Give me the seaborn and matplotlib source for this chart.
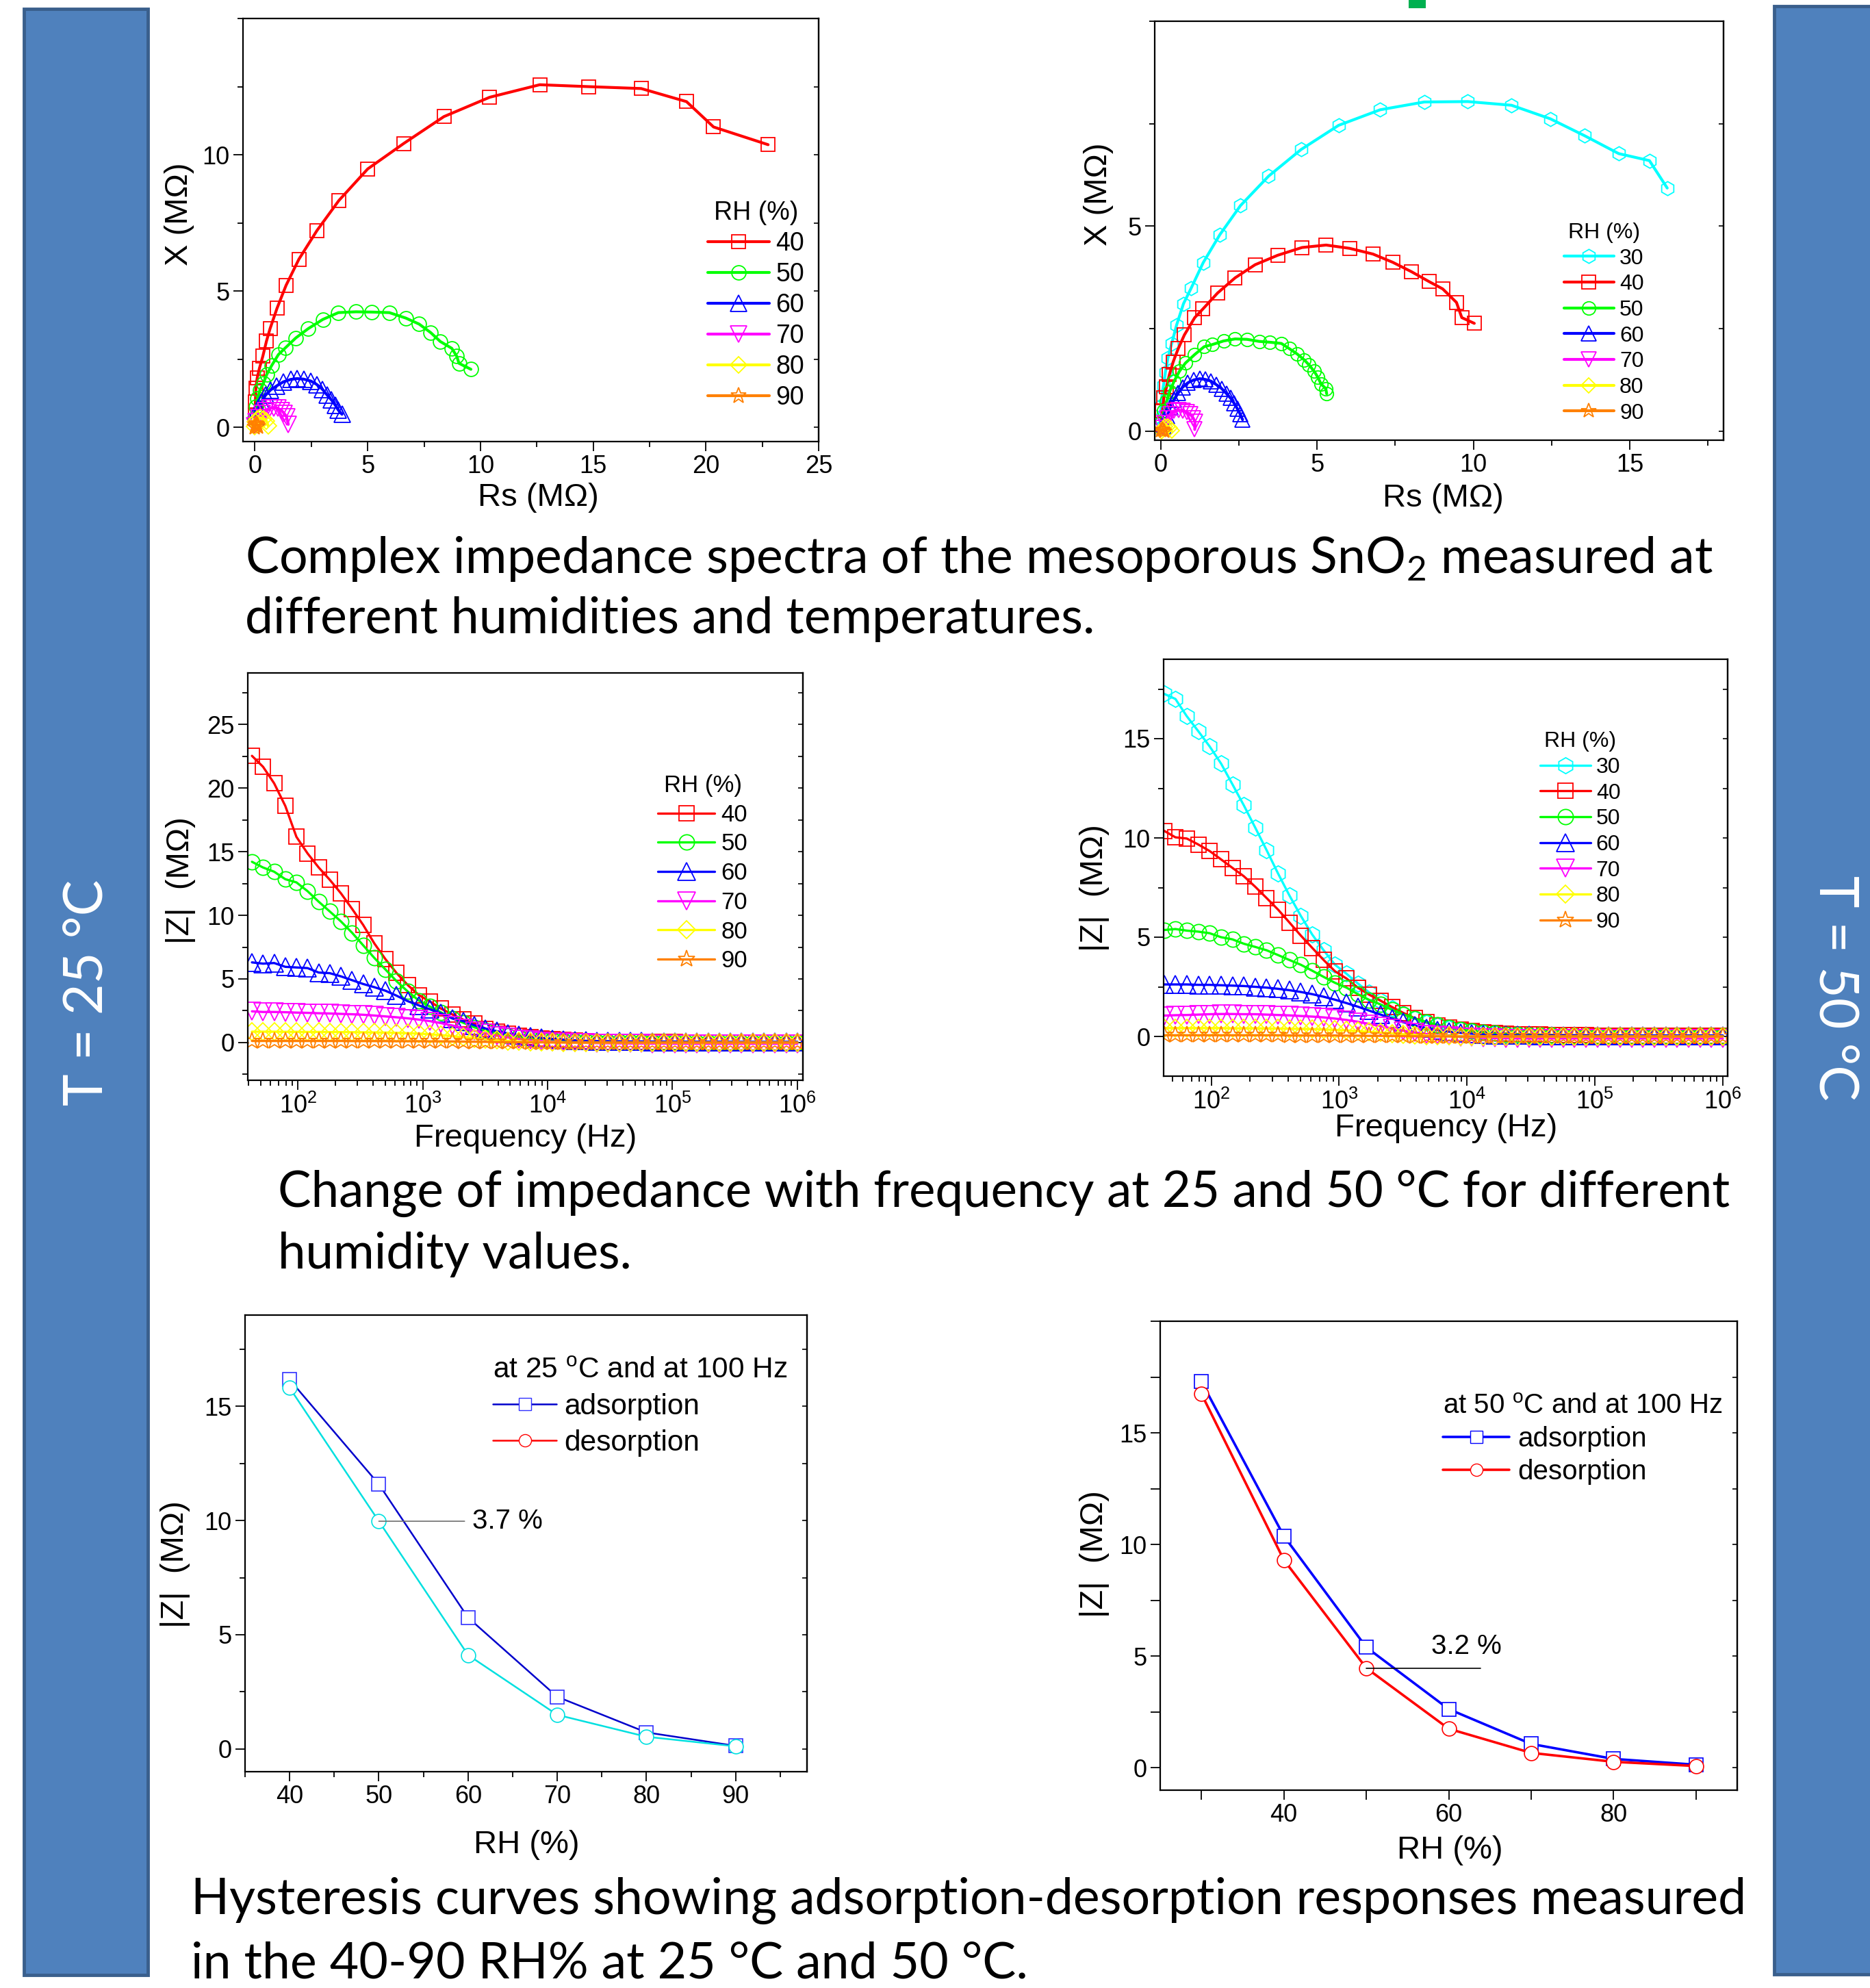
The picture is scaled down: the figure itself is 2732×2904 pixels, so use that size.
import matplotlib
matplotlib.use("Agg")
import matplotlib.pyplot as plt
import seaborn as sns
from matplotlib.patches import Rectangle
from matplotlib.lines import Line2D
from matplotlib.ticker import MultipleLocator, FixedLocator, LogLocator, NullFormatter

# ---------------- data ----------------
RH_LABELS_25 = ["40", "50", "60", "70", "80", "90"]
RH_LABELS_50 = ["30", "40", "50", "60", "70", "80", "90"]

# Nyquist, 25 C  (Rs, X) in MOhm
nyq25_rs = {
    "40": [0.01, 0.02, 0.04, 0.10, 0.20, 0.35, 0.51, 0.67, 0.98, 1.38, 1.95, 2.75, 3.72, 5.00,
           6.59, 8.38, 10.41, 12.63, 14.79, 17.13, 19.14, 20.34, 22.76],
    "50": [0.0, 0.06, 0.12, 0.22, 0.37, 0.53, 0.75, 1.04, 1.34, 1.81, 2.36, 3.01, 3.70, 4.48,
           5.19, 5.96, 6.69, 7.28, 7.79, 8.22, 8.73, 8.95, 9.05, 9.58],
    "60": [0.04, 0.14, 0.28, 0.47, 0.69, 0.96, 1.26, 1.59, 1.87, 2.16, 2.48, 2.75, 2.99, 3.21,
           3.40, 3.56, 3.70, 3.86],
    "70": [0.0, 0.06, 0.16, 0.31, 0.47, 0.65, 0.83, 1.02, 1.18, 1.30, 1.40, 1.48],
    "80": [0.0, 0.02, 0.10, 0.24, 0.39, 0.51, 0.59],
    "90": [0.0, 0.01, 0.04, 0.08, 0.12, 0.15],
}
nyq25_x = {
    "40": [0.45, 0.94, 1.43, 1.82, 2.17, 2.61, 3.16, 3.62, 4.37, 5.21, 6.17, 7.22, 8.32, 9.48,
           10.41, 11.40, 12.11, 12.57, 12.50, 12.43, 11.95, 11.02, 10.37],
    "50": [0.33, 0.76, 1.06, 1.37, 1.61, 1.95, 2.28, 2.67, 2.91, 3.28, 3.62, 3.96, 4.21, 4.24,
           4.23, 4.21, 4.01, 3.79, 3.48, 3.15, 2.90, 2.61, 2.35, 2.13],
    "60": [0.39, 0.70, 0.94, 1.18, 1.37, 1.52, 1.67, 1.76, 1.79, 1.77, 1.70, 1.57, 1.40, 1.18,
           1.00, 0.82, 0.63, 0.48],
    "70": [0.06, 0.21, 0.35, 0.51, 0.62, 0.70, 0.72, 0.70, 0.62, 0.51, 0.39, 0.11],
    "80": [0.02, 0.21, 0.30, 0.35, 0.30, 0.23, 0.05],
    "90": [0.01, 0.08, 0.13, 0.12, 0.08, 0.02],
}

# Nyquist, 50 C
nyq50_rs = {
    "30": [-0.01, 0.0, 0.01, 0.04, 0.09, 0.15, 0.23, 0.35, 0.51, 0.73, 0.97, 1.36, 1.89, 2.55,
           3.45, 4.49, 5.69, 7.02, 8.43, 9.82, 11.22, 12.46, 13.55, 14.65, 15.63, 16.20],
    "40": [0.01, 0.06, 0.10, 0.19, 0.28, 0.40, 0.56, 0.76, 1.09, 1.35, 1.82, 2.38, 3.02, 3.74,
           4.52, 5.29, 6.04, 6.79, 7.42, 8.02, 8.58, 9.02, 9.46, 9.63, 10.03],
    "50": [0.04, 0.10, 0.19, 0.29, 0.43, 0.60, 0.79, 1.09, 1.39, 1.64, 2.01, 2.38, 2.76, 3.15,
           3.49, 3.86, 4.12, 4.37, 4.59, 4.74, 4.91, 5.03, 5.13, 5.28, 5.31],
    "60": [0.10, 0.21, 0.31, 0.43, 0.56, 0.70, 0.87, 1.06, 1.25, 1.44, 1.61, 1.79, 1.95, 2.10,
           2.23, 2.35, 2.45, 2.54, 2.62],
    "70": [0.06, 0.12, 0.21, 0.31, 0.43, 0.57, 0.70, 0.84, 0.95, 1.04, 1.10, 1.09],
    "80": [0.02, 0.07, 0.14, 0.22, 0.30, 0.35],
    "90": [0.01, 0.04, 0.08, 0.12],
}
nyq50_x = {
    "30": [0.08, 0.32, 0.61, 0.85, 1.11, 1.43, 1.78, 2.13, 2.59, 3.11, 3.48, 4.11, 4.79, 5.50,
           6.22, 6.87, 7.46, 7.84, 8.03, 8.04, 7.95, 7.62, 7.21, 6.77, 6.60, 5.93],
    "40": [0.16, 0.49, 0.81, 1.09, 1.38, 1.69, 2.01, 2.35, 2.77, 2.98, 3.37, 3.74, 4.06, 4.29,
           4.48, 4.54, 4.46, 4.32, 4.12, 3.89, 3.65, 3.47, 3.14, 2.77, 2.63],
    "50": [0.24, 0.49, 0.73, 0.97, 1.22, 1.46, 1.66, 1.87, 2.06, 2.11, 2.20, 2.25, 2.24, 2.19,
           2.17, 2.14, 2.01, 1.88, 1.74, 1.62, 1.46, 1.31, 1.15, 1.04, 0.91],
    "60": [0.12, 0.36, 0.58, 0.77, 0.93, 1.07, 1.18, 1.25, 1.28, 1.26, 1.22, 1.13, 1.04, 0.92,
           0.81, 0.68, 0.55, 0.42, 0.28],
    "70": [0.08, 0.20, 0.32, 0.42, 0.49, 0.51, 0.50, 0.46, 0.41, 0.32, 0.23, 0.04],
    "80": [0.0, 0.06, 0.11, 0.12, 0.08, 0.01],
    "90": [0.01, 0.04, 0.03, 0.0],
}

# |Z| vs frequency
freq_hz = [42.7, 52.4, 64.3, 79.0, 97.0, 119.1, 146.3, 179.6, 220.5, 270.8,
           332.5, 408.3, 501.4, 615.7, 756.0, 928.4, 1140, 1400, 1719, 2110,
           2592, 3183, 3908, 4799, 5893, 7236, 8886, 10910, 13400, 16450,
           20210, 24810, 30470, 37410, 45940, 56410, 69270, 85060, 104400, 128200,
           157500, 193400, 237500, 291600, 358100, 439700, 540000, 663100, 814200, 1000000]

z25 = {
    "40": [22.54, 21.68, 20.38, 18.60, 16.17, 14.87, 13.76, 12.79, 11.73, 10.51,
           9.24, 7.79, 6.55, 5.46, 4.52, 3.73, 3.22, 2.66, 2.21, 1.80,
           1.50, 1.09, 0.84, 0.69, 0.53, 0.43, 0.33, 0.25, 0.18, 0.13,
           0.08, 0.06, 0.05, 0.04, 0.03, 0.03, 0.02, 0.02, 0.02, 0.01,
           0.01, 0.01, 0.01, 0.01, 0.0, 0.0, 0.0, 0.0, 0.0, 0.0],
    "50": [14.21, 13.76, 13.43, 12.84, 12.59, 11.90, 11.07, 10.30, 9.52, 8.63,
           7.64, 6.65, 5.74, 4.82, 4.01, 3.30, 2.82, 2.36, 1.90, 1.55,
           1.19, 0.94, 0.71, 0.53, 0.42, 0.33, 0.26, 0.20, 0.15, 0.11,
           0.08, 0.06, 0.05, 0.04, 0.03, 0.03, 0.02, 0.02, 0.02, 0.01,
           0.01, 0.01, 0.01, 0.01, 0.0, 0.0, 0.0, 0.0, 0.0, 0.0],
    "60": [6.30, 6.20, 6.25, 5.95, 5.90, 5.85, 5.50, 5.45, 5.20, 4.90,
           4.60, 4.35, 4.07, 3.68, 3.25, 2.92, 2.61, 2.28, 1.90, 1.68,
           1.35, 1.09, 0.89, 0.71, 0.58, 0.46, 0.36, 0.28, 0.22, 0.17,
           0.13, 0.11, 0.10, 0.09, 0.08, 0.08, 0.07, 0.07, 0.07, 0.06,
           0.06, 0.06, 0.06, 0.05, 0.05, 0.05, 0.05, 0.05, 0.05, 0.05],
    "70": [2.45, 2.40, 2.40, 2.38, 2.35, 2.33, 2.30, 2.28, 2.25, 2.22,
           2.18, 2.12, 2.05, 1.98, 1.90, 1.80, 1.68, 1.52, 1.34, 1.13,
           0.92, 0.72, 0.55, 0.40, 0.28, 0.19, 0.12, 0.06, 0.02, -0.01,
           -0.03, -0.05, -0.06, -0.07, -0.08, -0.08, -0.09, -0.09, -0.10, -0.10,
           -0.10, -0.10, -0.10, -0.10, -0.10, -0.10, -0.10, -0.10, -0.10, -0.10],
    "80": [0.85, 0.85, 0.85, 0.84, 0.84, 0.83, 0.83, 0.82, 0.82, 0.81,
           0.80, 0.79, 0.78, 0.76, 0.73, 0.70, 0.65, 0.58, 0.50, 0.42,
           0.33, 0.25, 0.18, 0.12, 0.08, 0.05, 0.03, 0.02, 0.01, 0.0,
           0.0, 0.0, 0.0, 0.0, 0.0, 0.0, 0.0, 0.0, 0.0, 0.0,
           0.0, 0.0, 0.0, 0.0, 0.0, 0.0, 0.0, 0.0, 0.0, 0.0],
    "90": [0.12, 0.12, 0.12, 0.12, 0.12, 0.12, 0.12, 0.12, 0.12, 0.11,
           0.11, 0.11, 0.11, 0.10, 0.10, 0.10, 0.09, 0.09, 0.08, 0.07,
           0.06, 0.05, 0.04, 0.03, 0.02, 0.01, 0.01, 0.0, 0.0, 0.0,
           0.0, 0.0, 0.0, 0.0, 0.0, 0.0, 0.0, 0.0, 0.0, 0.0,
           0.0, 0.0, 0.0, 0.0, 0.0, 0.0, 0.0, 0.0, 0.0, 0.0],
}

z50 = {
    "30": [17.26, 17.00, 16.13, 15.38, 14.61, 13.75, 12.70, 11.64, 10.52, 9.38,
           8.21, 7.10, 6.07, 5.13, 4.34, 3.61, 3.16, 2.67, 2.21, 1.80,
           1.43, 1.15, 0.89, 0.69, 0.54, 0.43, 0.33, 0.26, 0.21, 0.18,
           0.15, 0.12, 0.10, 0.08, 0.07, 0.06, 0.05, 0.04, 0.04, 0.03,
           0.03, 0.02, 0.02, 0.02, 0.02, 0.01, 0.01, 0.01, 0.01, 0.01],
    "40": [10.36, 10.03, 9.97, 9.67, 9.34, 8.92, 8.49, 8.07, 7.54, 6.97,
           6.39, 5.74, 5.08, 4.46, 3.85, 3.28, 2.92, 2.46, 2.10, 1.80,
           1.48, 1.18, 0.92, 0.72, 0.56, 0.44, 0.34, 0.27, 0.21, 0.17,
           0.14, 0.12, 0.10, 0.09, 0.08, 0.07, 0.06, 0.06, 0.05, 0.05,
           0.05, 0.04, 0.04, 0.04, 0.04, 0.04, 0.04, 0.04, 0.04, 0.04],
    "50": [5.36, 5.41, 5.33, 5.28, 5.20, 5.00, 4.89, 4.67, 4.51, 4.34,
           4.10, 3.85, 3.61, 3.31, 3.00, 2.70, 2.46, 2.13, 1.84, 1.61,
           1.34, 1.11, 0.90, 0.74, 0.58, 0.45, 0.35, 0.27, 0.21, 0.16,
           0.12, 0.10, 0.08, 0.07, 0.06, 0.05, 0.05, 0.04, 0.04, 0.04,
           0.03, 0.03, 0.03, 0.03, 0.03, 0.03, 0.03, 0.03, 0.03, 0.03],
    "60": [2.62, 2.62, 2.62, 2.60, 2.60, 2.58, 2.56, 2.54, 2.50, 2.46,
           2.40, 2.33, 2.24, 2.13, 2.00, 1.85, 1.68, 1.50, 1.30, 1.10,
           0.90, 0.72, 0.56, 0.42, 0.32, 0.24, 0.18, 0.14, 0.10, 0.08,
           0.07, 0.06, 0.06, 0.05, 0.05, 0.05, 0.05, 0.05, 0.05, 0.05,
           0.05, 0.05, 0.05, 0.05, 0.05, 0.05, 0.05, 0.05, 0.05, 0.05],
    "70": [1.05, 1.07, 1.08, 1.10, 1.12, 1.13, 1.13, 1.12, 1.12, 1.10,
           1.08, 1.06, 1.03, 1.00, 0.96, 0.90, 0.83, 0.74, 0.63, 0.52,
           0.40, 0.29, 0.20, 0.12, 0.06, 0.02, -0.02, -0.05, -0.07, -0.08,
           -0.09, -0.10, -0.10, -0.10, -0.10, -0.10, -0.10, -0.10, -0.10, -0.10,
           -0.10, -0.10, -0.10, -0.10, -0.10, -0.10, -0.10, -0.10, -0.10, -0.10],
    "80": [0.42, 0.42, 0.42, 0.42, 0.42, 0.42, 0.41, 0.41, 0.41, 0.40,
           0.40, 0.39, 0.38, 0.37, 0.35, 0.33, 0.30, 0.27, 0.23, 0.19,
           0.15, 0.11, 0.08, 0.05, 0.03, 0.02, 0.01, 0.0, 0.0, 0.0,
           0.0, 0.0, 0.0, 0.0, 0.0, 0.0, 0.0, 0.0, 0.0, 0.0,
           0.0, 0.0, 0.0, 0.0, 0.0, 0.0, 0.0, 0.0, 0.0, 0.0],
    "90": [0.06, 0.06, 0.06, 0.06, 0.06, 0.06, 0.06, 0.06, 0.06, 0.06,
           0.06, 0.05, 0.05, 0.05, 0.05, 0.05, 0.04, 0.04, 0.03, 0.03,
           0.02, 0.02, 0.01, 0.01, 0.0, 0.0, 0.0, 0.0, 0.0, 0.0,
           0.0, 0.0, 0.0, 0.0, 0.0, 0.0, 0.0, 0.0, 0.0, 0.0,
           0.0, 0.0, 0.0, 0.0, 0.0, 0.0, 0.0, 0.0, 0.0, 0.0],
}

# hysteresis at 100 Hz
rh25 = [40, 50, 60, 70, 80, 90]
ads25 = [16.17, 11.59, 5.75, 2.28, 0.72, 0.13]
des25 = [15.81, 9.97, 4.11, 1.49, 0.53, 0.11]
rh50 = [30, 40, 50, 60, 70, 80, 90]
ads50 = [17.29, 10.38, 5.40, 2.63, 1.07, 0.40, 0.14]
des50 = [16.75, 9.31, 4.47, 1.75, 0.67, 0.27, 0.08]

# ---------------- styles ----------------
SERIES_STYLE = {
    "30": ("#00FFFF", "h"),
    "40": ("#FF0000", "s"),
    "50": ("#00FF00", "o"),
    "60": ("#0000FF", "^"),
    "70": ("#FF00FF", "v"),
    "80": ("#FFFF00", "D"),
    "90": ("#FF8000", "*"),
}
MARKER_SCALE = {"s": 1.0, "o": 1.0, "h": 1.05, "^": 1.15, "v": 1.15, "D": 0.8, "*": 1.15}
BAR_FACE = "#4F81BD"
BAR_EDGE = "#3A5F8C"
CAPTION_FONT = ["Lato", "DejaVu Sans"]

sns.set_style("ticks")
plt.rcParams["font.family"] = ["Liberation Sans", "DejaVu Sans"]
plt.rcParams["mathtext.default"] = "regular"
plt.rcParams["axes.edgecolor"] = "black"
plt.rcParams["xtick.color"] = "black"
plt.rcParams["ytick.color"] = "black"
plt.rcParams["text.color"] = "black"
plt.rcParams["axes.labelcolor"] = "black"

W, H = 2732, 2904
fig = plt.figure(figsize=(W / 100, H / 100), dpi=100)
fig.patch.set_facecolor("white")


def place(box):
    l, t, r, b = box
    return fig.add_axes([l / W, 1 - b / H, (r - l) / W, (b - t) / H])


def finish(ax, box, xlabel, ylabel, xlab_c, ylab_c):
    l, t, r, b = box
    ax.set_xlabel(xlabel, fontsize=34)
    ax.set_ylabel(ylabel, fontsize=34)
    ax.xaxis.label.set_va("center")
    ax.yaxis.label.set_va("center")
    ax.xaxis.set_label_coords((xlab_c[0] - l) / (r - l), (b - xlab_c[1]) / (b - t))
    ax.yaxis.set_label_coords((ylab_c[0] - l) / (r - l), (b - ylab_c[1]) / (b - t))
    ax.tick_params(which="major", direction="out", length=10, width=1.3, labelsize=26, pad=4)
    ax.tick_params(which="minor", direction="out", length=6, width=1.3)
    for s in ax.spines.values():
        s.set_linewidth(1.6)
        s.set_color("black")
    ax.grid(False)
    # short inward ticks on the right spine, like the original plots
    sec = ax.secondary_yaxis("right")
    sec.set_yticks([v for v in ax.get_yticks(minor=True)] + list(ax.get_yticks()))
    sec.tick_params(direction="in", length=5, width=1.2, labelright=False)
    sec.spines["right"].set_linewidth(1.6)


def nyquist(ax, rs, xx, labels, ms, lw):
    for lab in labels:
        col, mk = SERIES_STYLE[lab]
        sns.lineplot(x=rs[lab], y=xx[lab], sort=False, estimator=None, ax=ax,
                     color=col, marker=mk, markersize=ms * MARKER_SCALE[mk],
                     markerfacecolor="none", markeredgecolor=col, markeredgewidth=1.3,
                     linewidth=lw, label=lab)


def zfreq(ax, zz, labels, ms, lw):
    ax.set_xscale("log")
    for lab in labels:
        col, mk = SERIES_STYLE[lab]
        sns.lineplot(x=freq_hz, y=zz[lab], sort=False, estimator=None, ax=ax,
                     color=col, marker=mk, markersize=ms * MARKER_SCALE[mk],
                     markerfacecolor="none", markeredgecolor=col, markeredgewidth=1.3,
                     linewidth=lw, label=lab)


def rh_legend(ax, anchor, fs, hl, ls):
    ax.legend(title="RH (%)", loc="lower right", bbox_to_anchor=anchor, frameon=False,
              fontsize=fs, title_fontsize=fs, handlelength=hl, handletextpad=0.25,
              labelspacing=ls, borderpad=0, borderaxespad=0, numpoints=1)


# ---------------- panel 1: Nyquist 25 C ----------------
B1 = (355, 27, 1196, 645)
ax1 = place(B1)
nyquist(ax1, nyq25_rs, nyq25_x, RH_LABELS_25, 15, 3.0)
ax1.set_xlim(-0.53, 25)
ax1.set_ylim(-0.52, 15)
ax1.xaxis.set_major_locator(MultipleLocator(5))
ax1.xaxis.set_minor_locator(MultipleLocator(2.5))
ax1.yaxis.set_major_locator(FixedLocator([0, 5, 10]))
ax1.yaxis.set_minor_locator(MultipleLocator(2.5))
rh_legend(ax1, (0.975, 0.075), 27, 2.4, 0.24)
finish(ax1, B1, "Rs (M\u03a9)", "X (M\u03a9)", (786, 727), (262, 313))

# ---------------- panel 2: Nyquist 50 C ----------------
B2 = (1687, 31, 2518, 643)
ax2 = place(B2)
nyquist(ax2, nyq50_rs, nyq50_x, RH_LABELS_50, 14, 3.0)
ax2.set_xlim(-0.19, 18)
ax2.set_ylim(-0.22, 10)
ax2.xaxis.set_major_locator(FixedLocator([0, 5, 10, 15]))
ax2.xaxis.set_minor_locator(MultipleLocator(2.5))
ax2.yaxis.set_major_locator(FixedLocator([0, 5]))
ax2.yaxis.set_minor_locator(MultipleLocator(2.5))
rh_legend(ax2, (0.86, 0.04), 23, 2.3, 0.24)
finish(ax2, B2, "Rs (M\u03a9)", "X (M\u03a9)", (2108, 728), (1605, 284))

# ---------------- panel 3: |Z| vs f, 25 C ----------------
B3 = (362, 983, 1173, 1578)
ax3 = place(B3)
zfreq(ax3, z25, RH_LABELS_25, 16, 2.4)
ax3.set_xlim(10 ** 1.597, 10 ** 6.045)
ax3.set_ylim(-2.97, 29.06)
ax3.yaxis.set_major_locator(MultipleLocator(5))
ax3.yaxis.set_minor_locator(MultipleLocator(2.5))
rh_legend(ax3, (0.90, 0.265), 25, 2.4, 0.28)
finish(ax3, B3, "Frequency (Hz)", "|Z|  (M\u03a9)", (768, 1663), (264, 1286))

# ---------------- panel 4: |Z| vs f, 50 C ----------------
B4 = (1700, 963, 2524, 1572)
ax4 = place(B4)
zfreq(ax4, z50, RH_LABELS_50, 16, 2.4)
ax4.set_xlim(10 ** 1.627, 10 ** 6.038)
ax4.set_ylim(-2.0, 19.0)
ax4.yaxis.set_major_locator(FixedLocator([0, 5, 10, 15]))
ax4.yaxis.set_minor_locator(MultipleLocator(2.5))
rh_legend(ax4, (0.81, 0.345), 23, 2.3, 0.24)
finish(ax4, B4, "Frequency (Hz)", "|Z|  (M\u03a9)", (2113, 1648), (1599, 1297))

for ax in (ax3, ax4):
    ax.xaxis.set_major_locator(LogLocator(base=10, numticks=10))
    ax.xaxis.set_minor_locator(LogLocator(base=10, subs=range(2, 10), numticks=50))
    ax.xaxis.set_minor_formatter(NullFormatter())

# ---------------- panel 5: hysteresis 25 C ----------------
B5 = (358, 1921, 1179, 2588)
ax5 = place(B5)
sns.lineplot(x=rh25, y=ads25, ax=ax5, color="#0000CC", marker="s", markersize=15,
             markerfacecolor="white", markeredgecolor="#3030FF", markeredgewidth=1.2,
             linewidth=1.8, estimator=None)
sns.lineplot(x=rh25, y=des25, ax=ax5, color="#00E0E0", marker="o", markersize=15,
             markerfacecolor="white", markeredgecolor="#00E0E0", markeredgewidth=1.2,
             linewidth=1.8, estimator=None)
ax5.set_xlim(35, 98)
ax5.set_ylim(-1, 19)
ax5.xaxis.set_major_locator(MultipleLocator(10))
ax5.xaxis.set_minor_locator(MultipleLocator(5))
ax5.yaxis.set_major_locator(FixedLocator([0, 5, 10, 15]))
ax5.yaxis.set_minor_locator(MultipleLocator(2.5))
h5 = [Line2D([], [], color="#0000CC", marker="s", markersize=13, markerfacecolor="white",
             markeredgecolor="#3030FF", lw=1.8),
      Line2D([], [], color="#FF0000", marker="o", markersize=13, markerfacecolor="white",
             markeredgecolor="#FF0000", lw=1.8)]
ax5.legend(h5, ["adsorption", "desorption"], title="at 25 $^{o}$C and at 100 Hz",
           loc="upper right", bbox_to_anchor=(0.965, 0.908), frameon=False, fontsize=30.5,
           title_fontsize=30.5, handlelength=2.2, handletextpad=0.25, labelspacing=0.3,
           borderpad=0, borderaxespad=0, alignment="left")
gap25 = 59.7
ax5.annotate("3.7 %", xy=(rh25[1], des25[1]), xytext=(gap25 + 0.8, des25[1]),
             fontsize=29, va="center", ha="left",
             arrowprops=dict(arrowstyle="-", color="#707070", lw=1.2, shrinkA=6, shrinkB=0))
finish(ax5, B5, "RH (%)", "|Z|  (M\u03a9)", (769, 2695), (256, 2285))

# ---------------- panel 6: hysteresis 50 C ----------------
B6 = (1695, 1930, 2538, 2615)
ax6 = place(B6)
sns.lineplot(x=rh50, y=ads50, ax=ax6, color="#0000FF", marker="s", markersize=15,
             markerfacecolor="white", markeredgecolor="#0000FF", markeredgewidth=1.2,
             linewidth=2.6, estimator=None)
sns.lineplot(x=rh50, y=des50, ax=ax6, color="#FF0000", marker="o", markersize=15,
             markerfacecolor="white", markeredgecolor="#FF0000", markeredgewidth=1.2,
             linewidth=2.6, estimator=None)
ax6.set_xlim(25, 95)
ax6.set_ylim(-1, 20)
ax6.xaxis.set_major_locator(FixedLocator([40, 60, 80]))
ax6.xaxis.set_minor_locator(FixedLocator([30, 50, 70, 90]))
ax6.yaxis.set_major_locator(FixedLocator([0, 5, 10, 15]))
ax6.yaxis.set_minor_locator(MultipleLocator(2.5))
h6 = [Line2D([], [], color="#0000FF", marker="s", markersize=13, markerfacecolor="white",
             markeredgecolor="#0000FF", lw=2.6),
      Line2D([], [], color="#FF0000", marker="o", markersize=13, markerfacecolor="white",
             markeredgecolor="#FF0000", lw=2.6)]
ax6.legend(h6, ["adsorption", "desorption"], title="at 50 $^{o}$C and at 100 Hz",
           loc="upper right", bbox_to_anchor=(0.975, 0.847), frameon=False, fontsize=29,
           title_fontsize=29, handlelength=2.4, handletextpad=0.3, labelspacing=0.25,
           borderpad=0, borderaxespad=0, alignment="left")
gap50 = 63.9
ax6.plot([rh50[2], gap50], [des50[2], des50[2]], color="black", lw=1.2)
ax6.text(57.9, des50[2] + 0.4, "3.2 %", fontsize=29, ha="left", va="bottom")
finish(ax6, B6, "RH (%)", "|Z|  (M\u03a9)", (2118, 2703), (1599, 2270))
ax6.tick_params(which="minor", length=10)

# ---------------- side bars, captions ----------------
fig.add_artist(Rectangle((35 / W, 1 - 2885 / H), (216 - 35) / W, (2885 - 13) / H,
                         transform=fig.transFigure, facecolor=BAR_FACE, edgecolor=BAR_EDGE,
                         linewidth=3.5, zorder=0))
fig.add_artist(Rectangle((2592 / W, 1 - 2884 / H), (2760 - 2592) / W, (2884 - 9) / H,
                         transform=fig.transFigure, facecolor=BAR_FACE, edgecolor=BAR_EDGE,
                         linewidth=3.5, zorder=0))
fig.add_artist(Rectangle((2058 / W, 1 - 12 / H), 25 / W, 14 / H,
                         transform=fig.transFigure, facecolor="#00B050", edgecolor="none"))

renderer = fig.canvas.get_renderer()


def fit(txt, target):
    bb = txt.get_window_extent(renderer=renderer)
    size = max(bb.width, bb.height)
    txt.set_fontsize(txt.get_fontsize() * target / size)


def ftext(x, y, s, **kw):
    return fig.text(x / W, 1 - y / H, s, **kw)


side1 = ftext(127, 1450, "T = 25 \u00b0C", rotation=90, ha="center", va="center",
              color="white", family=CAPTION_FONT, fontsize=58)
fit(side1, 330)
side2 = ftext(2680, 1443, "T = 50 \u00b0C", rotation=270, ha="center", va="center",
              color="white", family=CAPTION_FONT, fontsize=58)
fit(side2, 329)

captions = [
    (358, 837, 925, 2145, "Complex impedance spectra of the mesoporous SnO$_2$ measured at",
     "different humidities and temperatures."),
    (406, 1763, 1853, 2126, "Change of impedance with frequency at 25 and 50 \u00b0C for different",
     "humidity values."),
    (279, 2796, 2890, 2276, "Hysteresis curves showing adsorption-desorption responses measured",
     "in the 40-90 RH% at 25 \u00b0C and 50 \u00b0C."),
]
for x0, y1, y2, width, line1, line2 in captions:
    t1 = ftext(x0, y1, line1, ha="left", va="baseline", family=CAPTION_FONT, fontsize=60)
    fit(t1, width)
    ftext(x0, y2, line2, ha="left", va="baseline", family=CAPTION_FONT,
          fontsize=t1.get_fontsize())

fig.savefig("out.png", dpi=100, facecolor="white")
